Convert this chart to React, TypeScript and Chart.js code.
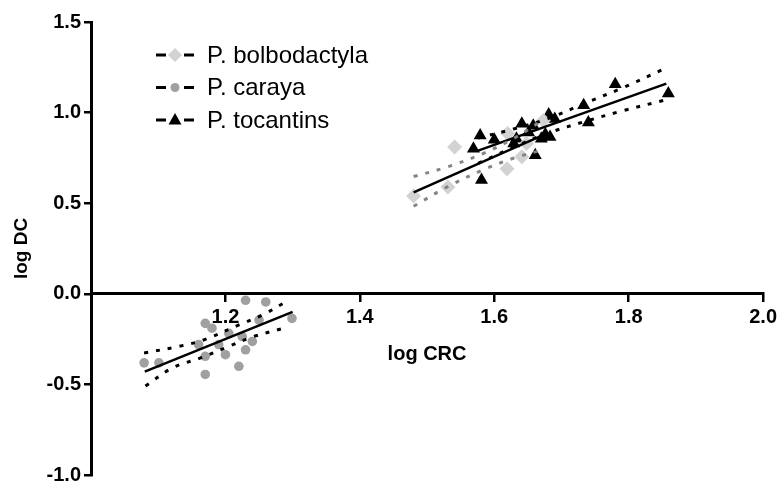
import React, { useEffect, useRef } from 'react';
import { Chart, registerables } from 'chart.js';
Chart.register(...registerables);

// ---- Series names ----
const seriesNames = ['P. bolbodactyla', 'P. caraya', 'P. tocantins'];

// ---- Axis ticks ----
const xTickValues = [1.2, 1.4, 1.6, 1.8, 2.0];
const yTickValues = [-1.0, -0.5, 0.0, 0.5, 1.0, 1.5];

// ---- P. bolbodactyla ----
const bolbX = [1.48, 1.531, 1.541, 1.62, 1.619, 1.641, 1.648, 1.673];
const bolbY = [0.54, 0.59, 0.81, 0.885, 0.69, 0.756, 0.83, 0.956];
const bolbFitX = [1.48, 1.675];
const bolbFitY = [0.56, 0.88];
const bolbUpX = [1.48, 1.53, 1.584, 1.63, 1.675];
const bolbUpY = [0.647, 0.70, 0.775, 0.86, 0.965];
const bolbLoX = [1.48, 1.53, 1.584, 1.63, 1.675];
const bolbLoY = [0.483, 0.59, 0.685, 0.75, 0.797];

// ---- P. caraya ----
const caraX = [1.079, 1.101, 1.16, 1.17, 1.18, 1.17, 1.17, 1.19, 1.20, 1.205, 1.22, 1.225, 1.23, 1.24, 1.23, 1.25, 1.26, 1.299];
const caraY = [-0.381, -0.381, -0.28, -0.163, -0.19, -0.345, -0.445, -0.28, -0.336, -0.218, -0.40, -0.236, -0.309, -0.263, -0.036, -0.145, -0.045, -0.136];
const caraFitX = [1.08, 1.30];
const caraFitY = [-0.43, -0.10];
const caraUpX = [1.079, 1.131, 1.168, 1.22, 1.255, 1.294];
const caraUpY = [-0.327, -0.29, -0.254, -0.172, -0.117, -0.036];
const caraLoX = [1.081, 1.121, 1.163, 1.205, 1.242, 1.287];
const caraLoY = [-0.509, -0.409, -0.354, -0.29, -0.236, -0.19];

// ---- P. tocantins ----
const tocX = [1.569, 1.579, 1.581, 1.60, 1.629, 1.633, 1.641, 1.651, 1.658, 1.661, 1.67, 1.676, 1.681, 1.683, 1.69, 1.733, 1.74, 1.78, 1.859];
const tocY = [0.80, 0.874, 0.628, 0.85, 0.83, 0.856, 0.938, 0.89, 0.928, 0.765, 0.856, 0.88, 0.99, 0.865, 0.965, 1.04, 0.945, 1.156, 1.105];
const tocFitX = [1.576, 1.856];
const tocFitY = [0.79, 1.16];
const tocUpX = [1.576, 1.63, 1.68, 1.737, 1.79, 1.855];
const tocUpY = [0.86, 0.911, 0.967, 1.055, 1.135, 1.245];
const tocLoX = [1.576, 1.63, 1.68, 1.737, 1.79, 1.855];
const tocLoY = [0.72, 0.811, 0.887, 0.953, 1.009, 1.07];

const FONT = '"Liberation Sans", Arial, sans-serif';
const DIAMOND = '#d2d2d2';
const CIRCLE = '#a0a0a0';
const TRI = '#000000';
const BAND_GRAY = '#858585';

const toPts = (xs: number[], ys: number[]) => xs.map((x, i) => ({ x, y: ys[i] }));

const pointSet = (label: string, xs: number[], ys: number[], style: string, r: number, color: string) => ({
  label,
  data: toPts(xs, ys),
  pointStyle: style,
  pointRadius: r,
  pointBackgroundColor: color,
  pointBorderColor: color,
  pointBorderWidth: 0,
  showLine: false,
  order: 2,
});

const lineSet = (label: string, xs: number[], ys: number[], color: string, dashed: boolean) => ({
  label,
  data: toPts(xs, ys),
  showLine: true,
  borderColor: color,
  borderWidth: dashed ? 3 : 2.5,
  borderDash: dashed ? [4, 8] : [],
  pointRadius: 0,
  tension: dashed ? 0.35 : 0,
  fill: false,
  order: 1,
});

const legendPlugin = {
  id: 'customLegend',
  afterDraw(chart: any) {
    const ctx = chart.ctx as CanvasRenderingContext2D;
    const markers = [
      { style: 'diamond', color: DIAMOND },
      { style: 'circle', color: CIRCLE },
      { style: 'triangle', color: TRI },
    ];
    seriesNames.forEach((name, i) => {
      const y = 55 + i * 32.5;
      const cx = 175;
      ctx.save();
      ctx.strokeStyle = '#000';
      ctx.lineWidth = 3;
      ctx.beginPath();
      ctx.moveTo(156, y);
      ctx.lineTo(166, y);
      ctx.moveTo(184, y);
      ctx.lineTo(194, y);
      ctx.stroke();
      const m = markers[i];
      ctx.fillStyle = m.color;
      ctx.beginPath();
      if (m.style === 'diamond') {
        ctx.moveTo(cx - 7, y);
        ctx.lineTo(cx, y - 7);
        ctx.lineTo(cx + 7, y);
        ctx.lineTo(cx, y + 7);
        ctx.closePath();
      } else if (m.style === 'circle') {
        ctx.arc(cx, y, 4.5, 0, Math.PI * 2);
      } else {
        ctx.moveTo(cx, y - 7);
        ctx.lineTo(cx + 6.5, y + 4.5);
        ctx.lineTo(cx - 6.5, y + 4.5);
        ctx.closePath();
      }
      ctx.fill();
      ctx.fillStyle = '#000';
      ctx.font = `24px ${FONT}`;
      ctx.textBaseline = 'middle';
      ctx.textAlign = 'left';
      ctx.fillText(name, 207, y + 1);
      ctx.restore();
    });
  },
};

export default function App() {
  const ref = useRef<HTMLCanvasElement>(null);
  useEffect(() => {
    if (!ref.current) return;
    const chart = new Chart(ref.current, {
      type: 'scatter',
      data: {
        datasets: [
          lineSet('caraya fit', caraFitX, caraFitY, '#000', false),
          lineSet('caraya upper', caraUpX, caraUpY, '#000', true),
          lineSet('caraya lower', caraLoX, caraLoY, '#000', true),
          lineSet('bolb fit', bolbFitX, bolbFitY, '#000', false),
          lineSet('bolb upper', bolbUpX, bolbUpY, BAND_GRAY, true),
          lineSet('bolb lower', bolbLoX, bolbLoY, BAND_GRAY, true),
          lineSet('toc fit', tocFitX, tocFitY, '#000', false),
          lineSet('toc upper', tocUpX, tocUpY, '#000', true),
          lineSet('toc lower', tocLoX, tocLoY, '#000', true),
          pointSet(seriesNames[0], bolbX, bolbY, 'rectRot', 7.5, DIAMOND),
          pointSet(seriesNames[1], caraX, caraY, 'circle', 4.8, CIRCLE),
          pointSet(seriesNames[2], tocX, tocY, 'triangle', 7.5, TRI),
        ] as any,
      },
      options: {
        responsive: false,
        animation: false,
        layout: { padding: { top: 22, right: 17, bottom: 10, left: 0 } },
        plugins: { legend: { display: false }, tooltip: { enabled: false } },
        scales: {
          x: {
            type: 'linear',
            position: { y: 0 } as any,
            min: 1.0,
            max: 2.0,
            afterBuildTicks: (s: any) => {
              s.ticks = xTickValues.map((v) => ({ value: v }));
            },
            ticks: {
              callback: (v: any) => Number(v).toFixed(1),
              font: { family: FONT, size: 20, weight: 'bold' },
              color: '#000',
              padding: 5,
              maxRotation: 0,
              autoSkip: false,
            },
            grid: { drawOnChartArea: false, drawTicks: true, tickLength: 7, color: '#000', lineWidth: 2.5 },
            border: { display: true, color: '#000', width: 3 },
            title: {
              display: true,
              text: 'log CRC',
              font: { family: FONT, size: 20, weight: 'bold' },
              color: '#000',
              padding: { top: 8, bottom: 0 },
            },
          },
          y: {
            type: 'linear',
            min: -1.0,
            max: 1.5,
            afterBuildTicks: (s: any) => {
              s.ticks = yTickValues.map((v) => ({ value: v }));
            },
            afterFit: (s: any) => {
              s.width = 91;
            },
            ticks: {
              callback: (v: any) => Number(v).toFixed(1),
              font: { family: FONT, size: 20, weight: 'bold' },
              color: '#000',
              padding: 3,
            },
            grid: { drawOnChartArea: false, drawTicks: true, tickLength: 7, color: '#000', lineWidth: 2.5 },
            border: { display: true, color: '#000', width: 3 },
            title: {
              display: true,
              text: 'log DC',
              font: { family: FONT, size: 19, weight: 'bold' },
              color: '#000',
              padding: { top: 10, bottom: 0 },
            },
          },
        },
      } as any,
      plugins: [legendPlugin],
    });
    return () => chart.destroy();
  }, []);
  return (
    <div style={{ position: 'fixed', left: 0, top: 0, width: 782, height: 490 }}>
      <canvas ref={ref} width={782} height={490} style={{ display: 'block' }} />
    </div>
  );
}
